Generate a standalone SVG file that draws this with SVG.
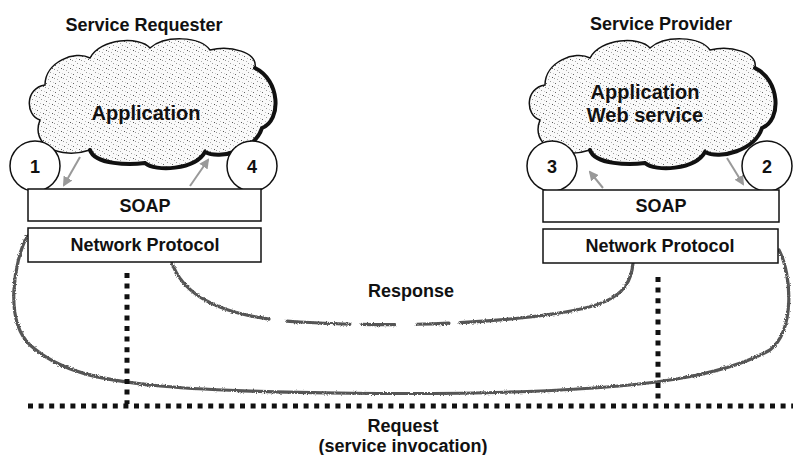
<svg xmlns="http://www.w3.org/2000/svg" width="793" height="455" viewBox="0 0 793 455">
<style>
.lbl{font-family:"Liberation Sans",Arial,sans-serif;font-weight:bold;font-size:18px;fill:#111;text-anchor:middle}
.big{font-size:20px}
.box{fill:#fff;stroke:#111;stroke-width:1.5}
.circ{fill:#fff;stroke:#111;stroke-width:1.5}
.cloud{fill:url(#stip);stroke:#111;stroke-width:1.5}
.shadow{fill:none;stroke:#111;stroke-width:4;stroke-linecap:round}
.flow{fill:none;stroke:#555;stroke-width:3.2;stroke-linecap:round;filter:url(#rough)}
.dots{fill:none;stroke:#111;stroke-width:5;stroke-dasharray:5 5.6}
.arr{fill:none;stroke:#999;stroke-width:2}
</style>
<defs>
<filter id="rough" x="-5%" y="-5%" width="110%" height="110%">
<feTurbulence type="fractalNoise" baseFrequency="0.9" numOctaves="2" seed="3" result="n"/>
<feDisplacementMap in="SourceGraphic" in2="n" scale="3" xChannelSelector="R" yChannelSelector="G"/>
</filter>
<pattern id="stip" width="9" height="9" patternUnits="userSpaceOnUse">
<rect width="9" height="9" fill="#fafafa"/>
<rect x="1" y="2" width="1" height="1" fill="#666"/>
<rect x="5" y="0" width="1" height="1" fill="#999"/>
<rect x="7" y="5" width="1" height="1" fill="#555"/>
<rect x="3" y="7" width="1" height="1" fill="#aaa"/>
<rect x="4" y="4" width="1" height="1" fill="#bbb"/>
<rect x="8" y="1" width="1" height="1" fill="#ccc"/>
<rect x="0" y="6" width="1" height="1" fill="#999"/>
</pattern>
<path id="cloudShape" d="M40,120 C25,115 25,88 45,85 C45,62 75,50 90,58 C100,38 140,36 150,48 C165,35 200,36 210,50 C230,45 258,52 255,68 C280,80 282,120 262,128 C255,150 220,160 205,152 C195,170 155,172 145,163 C130,165 95,165 90,150 C60,160 30,145 40,120 Z"/>
<path id="cloudShadow" d="M255,68 C280,80 282,120 262,128 C255,150 220,160 205,152 C195,170 155,172 145,163 C130,165 95,165 90,150"/>
<marker id="ah" viewBox="0 0 10 10" refX="8" refY="5" markerWidth="5" markerHeight="5" orient="auto">
<path d="M0,0 L10,5 L0,10 Z" fill="#999"/>
</marker>
</defs>

<g id="connectors">
<path id="request-curve" class="flow" d="M27,236 C14,262 4,320 30,345 C60,372 100,380 160,386 C250,394 450,396 560,390 C640,386 720,378 770,350 C795,330 792,275 779,250"/>
<path id="response-curve" class="flow" stroke-dasharray="118 18 63 12 33 22 32 11 400" d="M172,263 C185,300 230,318 300,322 C360,326 440,326 520,318 C600,310 630,300 633,263"/>
<path class="dots" d="M28,406 H793"/>
<path class="dots" d="M127,273 V404"/>
<path class="dots" d="M658,277 V404"/>
<path class="arr" d="M80,157 L64,185" marker-end="url(#ah)"/>
<path class="arr" d="M190,186 L208,160" marker-end="url(#ah)"/>
<path class="arr" d="M603,188 L590,172" marker-end="url(#ah)"/>
<path class="arr" d="M727,158 L743,184" marker-end="url(#ah)"/>
</g>

<g id="requester">
<text class="lbl" x="144" y="31">Service Requester</text>
<g id="req-app">
<use href="#cloudShape" class="cloud"/>
<use href="#cloudShadow" class="shadow"/>
<text class="lbl big" x="146" y="120">Application</text>
</g>
<g id="req-1"><circle class="circ" cx="35" cy="166" r="25"/><text class="lbl" x="35" y="173">1</text></g>
<g id="req-4"><circle class="circ" cx="252" cy="166" r="25"/><text class="lbl" x="252" y="173">4</text></g>
<g id="req-soap"><rect class="box" x="28" y="189" width="233" height="32"/><text class="lbl" x="145" y="212">SOAP</text></g>
<g id="req-net"><rect class="box" x="28" y="228" width="233" height="34"/><text class="lbl" x="145" y="251">Network Protocol</text></g>
</g>

<g id="provider">
<text class="lbl" x="661" y="30">Service Provider</text>
<g id="prov-app">
<g transform="translate(500,0)">
<use href="#cloudShape" class="cloud"/>
<use href="#cloudShadow" class="shadow"/>
</g>
<text class="lbl big" x="645" y="99">Application</text>
<text class="lbl big" x="645" y="122">Web service</text>
</g>
<g id="prov-3"><circle class="circ" cx="552" cy="166" r="25"/><text class="lbl" x="552" y="173">3</text></g>
<g id="prov-2"><circle class="circ" cx="767" cy="166" r="25"/><text class="lbl" x="767" y="173">2</text></g>
<g id="prov-soap"><rect class="box" x="543" y="190" width="236" height="32"/><text class="lbl" x="661" y="212">SOAP</text></g>
<g id="prov-net"><rect class="box" x="543" y="229" width="235" height="34"/><text class="lbl" x="660" y="252">Network Protocol</text></g>
</g>

<g id="labels">
<text class="lbl" x="411" y="297">Response</text>
<text class="lbl" x="403" y="432">Request</text>
<text class="lbl" x="403" y="452">(service invocation)</text>
</g>
</svg>
